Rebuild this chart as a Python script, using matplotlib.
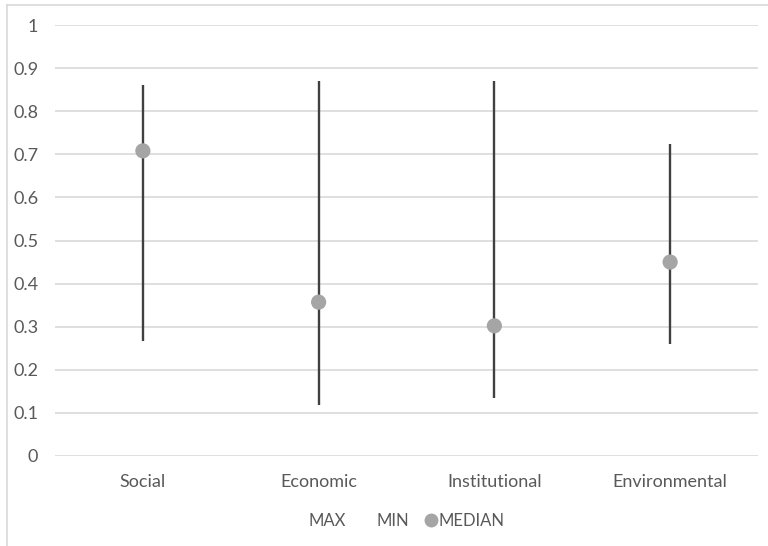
import numpy as np
import matplotlib.pyplot as plt
from matplotlib.lines import Line2D

plt.rcParams['font.family'] = ['Lato', 'DejaVu Sans']

categories = ['Social', 'Economic', 'Institutional', 'Environmental']
max_vals = [0.86, 0.87, 0.87, 0.724]
min_vals = [0.267, 0.118, 0.135, 0.26]
median_vals = [0.708, 0.357, 0.302, 0.45]
yticks = [0, 0.1, 0.2, 0.3, 0.4, 0.5, 0.6, 0.7, 0.8, 0.9, 1]
ytick_labels = ['0', '0.1', '0.2', '0.3', '0.4', '0.5', '0.6', '0.7', '0.8', '0.9', '1']

TXT = '#595959'
GRID = '#d9d9d9'

fig = plt.figure(figsize=(7.68, 5.46), dpi=100)
ax = fig.add_axes([55 / 768, 1 - 456 / 546, 703 / 768, 431 / 546])

x = np.arange(len(categories))
ax.vlines(x, min_vals, max_vals, color='#404040', lw=1.7, zorder=2)
ax.scatter(x, median_vals, s=120, color='#a5a5a5', zorder=3, edgecolors='none')

ax.set_xlim(-0.5, len(categories) - 0.5)
ax.set_ylim(0, 1)
ax.set_yticks(yticks)
ax.set_yticklabels(ytick_labels)
ax.set_xticks(x)
ax.set_xticklabels(categories)
ax.yaxis.grid(True, color=GRID, lw=1.2)
ax.set_axisbelow(True)
for s in ax.spines.values():
    s.set_visible(False)
ax.tick_params(axis='both', length=0, colors=TXT, labelsize=13)
ax.tick_params(axis='y', pad=12)
ax.tick_params(axis='x', pad=13)

handles = [Line2D([], [], color='none'),
           Line2D([], [], color='none'),
           Line2D([], [], marker='o', color='none', markerfacecolor='#a5a5a5',
                  markeredgecolor='none', markersize=10)]
leg = fig.legend(handles, ['MAX', 'MIN', 'MEDIAN'], loc='center',
                 bbox_to_anchor=(400 / 768, 1 - 521 / 546), ncol=3, frameon=False,
                 fontsize=12, handlelength=0.7, handletextpad=0.1, columnspacing=1.0,
                 labelcolor=TXT)

# chart border (left and top visible)
fig.add_artist(Line2D([7 / 768, 7 / 768], [0, 1 - 5 / 546], transform=fig.transFigure,
                      color=GRID, lw=1.2))
fig.add_artist(Line2D([7 / 768, 1], [1 - 5 / 546, 1 - 5 / 546], transform=fig.transFigure,
                      color=GRID, lw=1.2))

fig.savefig('out.png', dpi=100)
